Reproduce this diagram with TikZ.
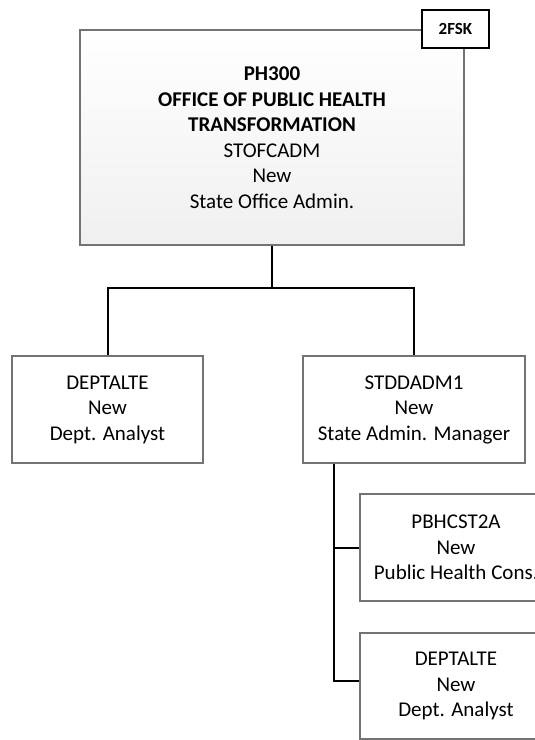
\documentclass[tikz,border=0pt]{standalone}
\usepackage{fontspec}
\setmainfont{Carlito}
\begin{document}
\begin{tikzpicture}[x=1pt,y=-1pt,
  box/.style={draw=black!55,line width=1.3pt,fill=white,rectangle,inner sep=0pt,align=center,
    font=\fontsize{21}{25.5}\selectfont},
  topbox/.style={box,top color=white,bottom color=black!6},
  tag/.style={draw=black,line width=1.7pt,fill=white,rectangle,inner sep=0pt,
    minimum width=67pt,minimum height=38pt,font=\fontsize{17}{20}\selectfont\bfseries},
  link/.style={draw=black,line width=2pt}]
\useasboundingbox (0,0) rectangle (535,740);
\clip (0,0) rectangle (535,740);
\node[topbox,minimum width=384pt,minimum height=215pt] (top) at (272,137.5)
  {\textbf{PH300}\\\textbf{OFFICE OF PUBLIC HEALTH}\\\textbf{TRANSFORMATION}\\STOFCADM\\New\\State Office Admin.};
\node[tag] (tg) at (455.5,29) {2FSK};
\coordinate (j) at (272,288);
\node[box,minimum width=191pt,minimum height=107pt] (left) at (107.5,409.5)
  {DEPTALTE\\New\\Dept. Analyst};
\node[box,minimum width=222pt,minimum height=107pt] (right) at (414,409.5)
  {STDDADM1\\New\\State Admin. Manager};
\node[box,minimum width=192pt,minimum height=107pt] (c1) at (456,547.5)
  {PBHCST2A\\New\\Public Health Cons.};
\node[box,minimum width=192pt,minimum height=106pt] (c2) at (456,686)
  {DEPTALTE\\New\\Dept. Analyst};
\coordinate (rs) at (334,463.5);
\draw[link] (top.south) -- (j);
\draw[link] (left.north) |- (j) -| (right.north);
\draw[link] (rs) |- (c1.west);
\draw[link] (rs) |- ([yshift=5]c2.west);
\end{tikzpicture}
\end{document}
